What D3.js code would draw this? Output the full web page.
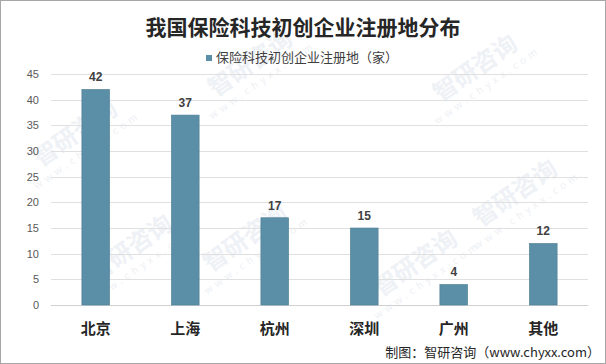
<!DOCTYPE html>
<html>
<head>
<meta charset="utf-8">
<script src="https://cdn.jsdelivr.net/npm/d3@7"></script>
<style>
  body { margin: 0; background: #fff; }
  svg { display: block; font-family: "Noto Sans CJK SC", "Microsoft YaHei", sans-serif; }
</style>
</head>
<body>
<svg id="chart"></svg>
<script>
// DATA

const cities = ["北京", "上海", "杭州", "深圳", "广州", "其他"];
const counts = [42, 37, 17, 15, 4, 12];
const yTicks = [0, 5, 10, 15, 20, 25, 30, 35, 40, 45];

const titleText = "我国保险科技初创企业注册地分布";
const legendText = "保险科技初创企业注册地（家）";
const sourceText = "制图：智研咨询（www.chyxx.com）";

const width = 606;
const height = 364;
const margin = { top: 74, right: 18, bottom: 59, left: 51 };

const svg = d3.select("#chart")
  .attr("width", width)
  .attr("height", height);

// BACKGROUND + BORDER

svg.append("rect")
  .attr("x", 0.5).attr("y", 0.5)
  .attr("width", width - 1).attr("height", height - 1)
  .attr("fill", "#fff")
  .attr("stroke", "#a6a6a6");

// WATERMARKS (very faint)

const marks = [[80, 140], [255, 70], [250, 245], [480, 75], [520, 200], [135, 255], [420, 270]];
marks.forEach(([mx, my]) => {
  const g = svg.append("g")
    .attr("transform", `translate(${mx},${my}) rotate(-35)`);
  g.append("text")
    .attr("text-anchor", "middle")
    .attr("font-size", 24)
    .attr("font-weight", "bold")
    .attr("fill", "#eef1f5")
    .text("智研咨询");
  g.append("text")
    .attr("text-anchor", "middle")
    .attr("y", 16)
    .attr("font-size", 10)
    .attr("letter-spacing", 4)
    .attr("fill", "#eef1f5")
    .text("www.chyxx.com");
});

// SCALES

const x = d3.scaleBand()
  .domain(cities)
  .range([margin.left, width - margin.right])
  .paddingInner(0.69)
  .paddingOuter(0.345);

const y = d3.scaleLinear()
  .domain([0, 45])
  .range([height - margin.bottom, margin.top]);

// GRIDLINES

svg.append("g")
  .selectAll("line")
  .data(yTicks)
  .enter()
  .append("line")
  .attr("x1", margin.left)
  .attr("x2", width - margin.right)
  .attr("y1", d => Math.round(y(d)) + 0.5)
  .attr("y2", d => Math.round(y(d)) + 0.5)
  .attr("stroke", d => d === 0 ? "#d0d0d0" : "#e0e0e0");

// Y AXIS

const yAxis = svg.append("g")
  .attr("transform", `translate(${margin.left - 12},0)`)
  .call(d3.axisLeft(y).tickValues(yTicks).tickSize(0).tickPadding(0));

yAxis.select(".domain").remove();
yAxis.selectAll("text")
  .attr("font-size", 11)
  .attr("fill", "#595959")
  .attr("font-family", "Liberation Sans, Arial, sans-serif");

// BARS

svg.append("g")
  .selectAll("rect")
  .data(cities)
  .enter()
  .append("rect")
  .attr("x", d => x(d))
  .attr("width", x.bandwidth())
  .attr("y", (d, i) => y(counts[i]))
  .attr("height", (d, i) => y(0) - y(counts[i]))
  .attr("fill", "#5b8fa7")
  .attr("stroke", "#4f7f96")
  .attr("stroke-width", 0.6);

// VALUE LABELS

svg.append("g")
  .selectAll("text")
  .data(cities)
  .enter()
  .append("text")
  .attr("x", d => x(d) + x.bandwidth() / 2)
  .attr("y", (d, i) => y(counts[i]) - 8)
  .attr("text-anchor", "middle")
  .attr("font-size", 12)
  .attr("font-weight", "bold")
  .attr("fill", "#404040")
  .attr("font-family", "Liberation Sans, Arial, sans-serif")
  .text((d, i) => counts[i]);

// X AXIS LABELS

const xAxis = svg.append("g")
  .attr("transform", `translate(0,${y(0)})`)
  .call(d3.axisBottom(x).tickSize(0).tickPadding(18));

xAxis.select(".domain").remove();
xAxis.selectAll("text")
  .attr("font-size", 15)
  .attr("font-weight", "bold")
  .attr("fill", "#262626")
  .attr("font-family", "Noto Sans CJK SC, sans-serif");

// TITLE

svg.append("text")
  .attr("x", width / 2)
  .attr("y", 35)
  .attr("text-anchor", "middle")
  .attr("font-size", 21)
  .attr("font-weight", "bold")
  .attr("fill", "#262626")
  .text(titleText);

// LEGEND

svg.append("rect")
  .attr("x", 206).attr("y", 55)
  .attr("width", 6).attr("height", 6)
  .attr("fill", "#5b8fa7");

svg.append("text")
  .attr("x", 216)
  .attr("y", 62)
  .attr("font-size", 13)
  .attr("fill", "#404040")
  .text(legendText);

// SOURCE

svg.append("text")
  .attr("x", width - 6)
  .attr("y", 357)
  .attr("text-anchor", "end")
  .attr("font-size", 13)
  .attr("fill", "#262626")
  .text(sourceText);
</script>
</body>
</html>
